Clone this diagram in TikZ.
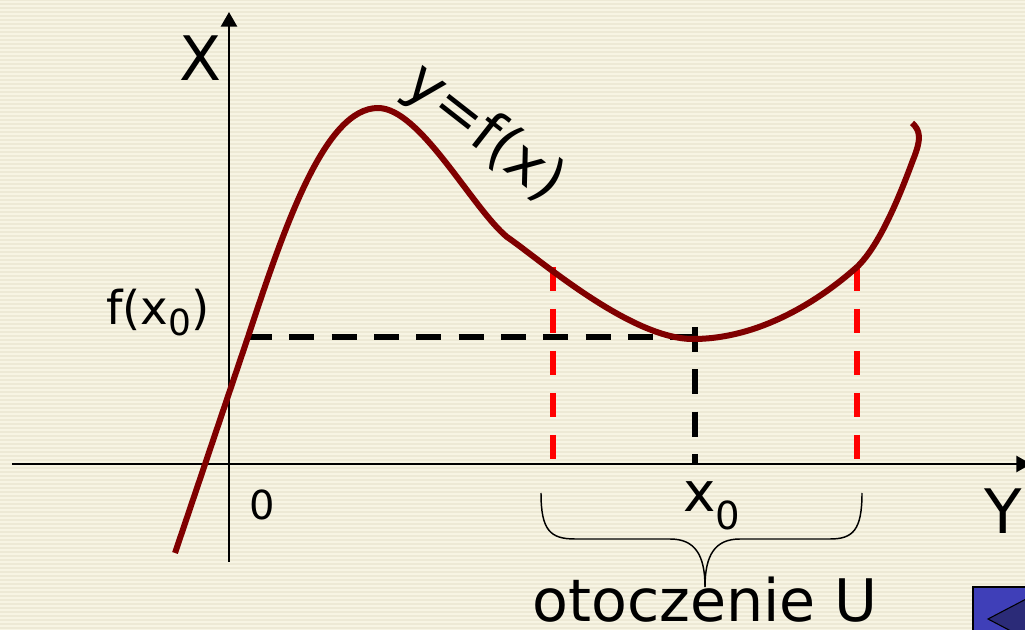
\documentclass[tikz,border=0pt]{standalone}
\usepackage{fontspec}
\setmainfont{DejaVu Sans}
\usetikzlibrary{arrows.meta}
\definecolor{bgbase}{HTML}{EDE9D5}
\definecolor{bgline}{HTML}{F7F4E3}
\definecolor{curvecol}{HTML}{800000}
\definecolor{btnblue}{HTML}{3F3FB8}
\definecolor{btndark}{HTML}{2B2B78}
\begin{document}
\begin{tikzpicture}[x=0.75pt,y=-0.75pt,
  axis/.style={line width=2pt,black},
  curvestyle/.style={line width=4.5pt,curvecol,line join=round,line cap=butt},
  blackdash/.style={line width=4pt,black,dash pattern=on 18.75pt off 13pt},
  reddash/.style={line width=4pt,red,dash pattern=on 18pt off 13.5pt},
  bracestyle/.style={line width=1.1pt,black},
  lbl/.style={inner sep=0pt,black}]
\useasboundingbox (0,0) rectangle (1025,630);
\fill[bgbase] (0,0) rectangle (1025,630);
\foreach \k in {0,...,157} \fill[bgline] (0,{4*\k+1}) rectangle (1025,{4*\k+2.6});
% axes
\coordinate (xaxL) at (12,464);
\coordinate (xaxR) at (1031,464);
\coordinate (yaxB) at (229,562);
\coordinate (yaxT) at (229,12);
\draw[axis,-{Triangle[length=11pt,width=12pt]}] (xaxL) -- (xaxR);
\draw[axis,-{Triangle[length=11pt,width=12pt]}] (yaxB) -- (yaxT);
% dashed guides
\coordinate (fxz) at (247,337);
\coordinate (Pz) at (697,337);
\coordinate (Pt) at (695,327);
\coordinate (xz) at (695,464);
\coordinate (Ua) at (553,267);
\coordinate (Uab) at (553,464);
\coordinate (Ub) at (857,267);
\coordinate (Ubb) at (857,464);
\draw[blackdash] (fxz) -- (Pz);
\draw[blackdash] (Pt) -- (xz);
\draw[reddash] (Ua) -- (Uab);
\draw[reddash] (Ub) -- (Ubb);
% curve
\draw[curvestyle] (175,553) -- (248,337)
  .. controls (285,225) and (325,108) .. (378,108)
  .. controls (420,108) and (472,208) .. (507,237)
  .. controls (538,258) and (630,339) .. (693,339)
  .. controls (760,339) and (820,300) .. (857,267)
  .. controls (880,245) and (900,195) .. (913,160)
  .. controls (922,138) and (920,130) .. (912,123);
% brace
\coordinate (brL) at (541,493);
\coordinate (brR) at (862,493);
\coordinate (brT) at (705,587);
\draw[bracestyle] (brL) .. controls (541,530) and (550,539) .. (575,539) -- (670,539)
  .. controls (695,539) and (705,555) .. (brT);
\draw[bracestyle] (brR) .. controls (862,530) and (853,539) .. (830,539) -- (740,539)
  .. controls (715,539) and (705,555) .. (brT);
% labels
\node[lbl,font=\fontsize{46}{46}\selectfont] (labX) at (201,58) {X};
\node[lbl,font=\fontsize{46}{46}\selectfont] (labY) at (1003,511) {Y};
\node[lbl,font=\fontsize{30}{30}\selectfont] (labO) at (262,505) {0};
\node[lbl,anchor=base west,font=\fontsize{41}{41}\selectfont] (labx0) at (683,512)
  {x\raisebox{-13.5pt}{\fontsize{29}{29}\selectfont 0}};
\node[lbl,anchor=base west,font=\fontsize{35}{35}\selectfont] (labfx) at (106,325)
  {f(x\raisebox{-8pt}{\fontsize{27}{27}\selectfont 0})};
\node[lbl,anchor=base,font=\fontsize{44}{44}\selectfont] (labU) at (705,622) {otoczenie U};
\node[lbl,rotate=-38,font=\fontsize{44}{44}\selectfont] (labf) at (484,134) {y=f(x)};
% navigation button
\draw[line width=1.5pt,fill=btnblue] (973,587) rectangle (1040,640);
\draw[line width=0.8pt,fill=btndark] (988,619) -- (1030,597) -- (1030,641) -- cycle;
\end{tikzpicture}
\end{document}
